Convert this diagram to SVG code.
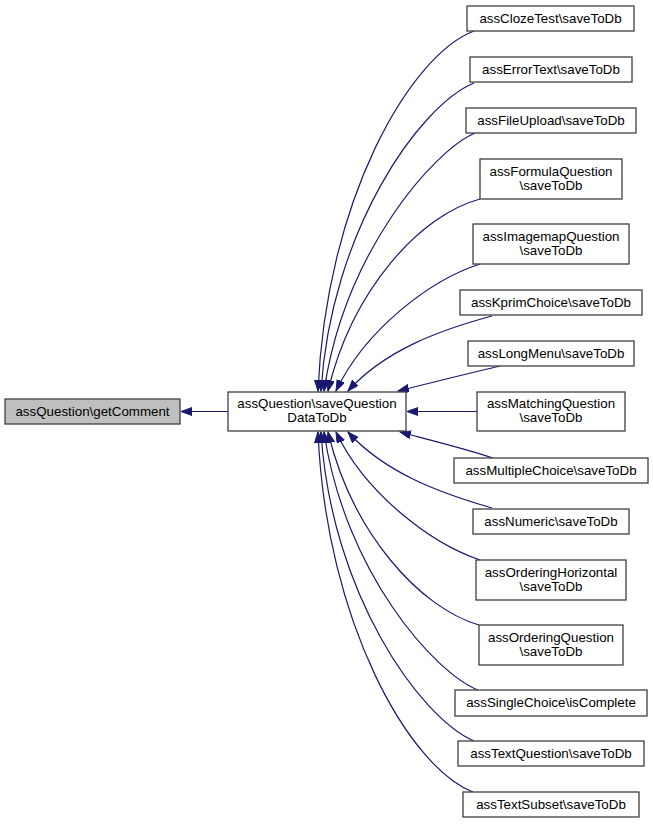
<svg xmlns="http://www.w3.org/2000/svg" width="653" height="824" viewBox="0 0 653 824">
<style>
.n rect{fill:#ffffff;stroke:#404040;stroke-width:1.3}
.n.root rect{fill:#bfbfbf}
.n text{font-family:"Liberation Sans",Arial,sans-serif;font-size:13.33px;fill:#000000;text-anchor:middle}
.e path{fill:none;stroke:#191970;stroke-width:1.2;marker-end:url(#ah)}
</style>
<defs>
<marker id="ah" markerUnits="userSpaceOnUse" markerWidth="13" markerHeight="10" refX="11" refY="4" orient="auto" viewBox="0 0 13 10">
<polygon points="0,0 11,4 0,8" fill="#191970" stroke="#191970" stroke-width="1"/>
</marker>
</defs>
<rect width="653" height="824" fill="#ffffff"/>
<g id="edges" class="e">
<path d="M228,411.5 L181,411.5"/>
<path d="M474,31 C410,55 326,200 318,391"/>
<path d="M474,83 C420,105 331,230 321,391"/>
<path d="M475,133 C435,150 345,250 324,391"/>
<path d="M480,199 C420,215 352,290 328,391"/>
<path d="M480,264 C430,280 365,330 336,391"/>
<path d="M492,316 C440,330 385,350 348,391"/>
<path d="M500,366 C470,373 430,383 398,391"/>
<path d="M477,411.5 L407,411.5"/>
<path d="M493,458 C470,450 430,440 400,432"/>
<path d="M492,508 C440,493 385,473 348,432"/>
<path d="M480,560 C430,543 365,493 336,432"/>
<path d="M479,625 C420,608 352,533 328,432"/>
<path d="M478,690 C435,673 345,573 324,432"/>
<path d="M474,741 C420,718 331,593 321,432"/>
<path d="M473,792 C410,768 326,623 318,432"/>
</g>
<g id="node_getComment" class="n root"><rect x="5" y="399" width="175" height="25"/><text x="92.5" y="415.5">assQuestion\getComment</text></g>
<g id="node_saveQuestionDataToDb" class="n"><rect x="228" y="392" width="178" height="39"/><text x="317" y="408">assQuestion\saveQuestion</text><text x="317" y="422">DataToDb</text></g>
<g id="node_ClozeTest" class="n"><rect x="467" y="6" width="167" height="25"/><text x="550.5" y="22.5">assClozeTest\saveToDb</text></g>
<g id="node_ErrorText" class="n"><rect x="470" y="57" width="162" height="25"/><text x="551" y="73.5">assErrorText\saveToDb</text></g>
<g id="node_FileUpload" class="n"><rect x="466" y="108" width="170" height="25"/><text x="551" y="124.5">assFileUpload\saveToDb</text></g>
<g id="node_FormulaQuestion" class="n"><rect x="480" y="159" width="142" height="40"/><text x="551" y="175.5">assFormulaQuestion</text><text x="551" y="189.5">\saveToDb</text></g>
<g id="node_ImagemapQuestion" class="n"><rect x="473" y="224" width="156" height="40"/><text x="551" y="240.5">assImagemapQuestion</text><text x="551" y="254.5">\saveToDb</text></g>
<g id="node_KprimChoice" class="n"><rect x="460" y="290" width="182" height="25"/><text x="551" y="306.5">assKprimChoice\saveToDb</text></g>
<g id="node_LongMenu" class="n"><rect x="468" y="341" width="166" height="25"/><text x="551" y="357.5">assLongMenu\saveToDb</text></g>
<g id="node_MatchingQuestion" class="n"><rect x="477" y="392" width="148" height="39"/><text x="551" y="408">assMatchingQuestion</text><text x="551" y="422">\saveToDb</text></g>
<g id="node_MultipleChoice" class="n"><rect x="454" y="458" width="194" height="25"/><text x="551" y="474.5">assMultipleChoice\saveToDb</text></g>
<g id="node_Numeric" class="n"><rect x="473" y="509" width="156" height="25"/><text x="551" y="525.5">assNumeric\saveToDb</text></g>
<g id="node_OrderingHorizontal" class="n"><rect x="476" y="560" width="150" height="40"/><text x="551" y="576.5">assOrderingHorizontal</text><text x="551" y="590.5">\saveToDb</text></g>
<g id="node_OrderingQuestion" class="n"><rect x="479" y="625" width="144" height="40"/><text x="551" y="641.5">assOrderingQuestion</text><text x="551" y="655.5">\saveToDb</text></g>
<g id="node_SingleChoice" class="n"><rect x="455" y="690" width="192" height="26"/><text x="551" y="707">assSingleChoice\isComplete</text></g>
<g id="node_TextQuestion" class="n"><rect x="458" y="741" width="186" height="25"/><text x="551" y="757.5">assTextQuestion\saveToDb</text></g>
<g id="node_TextSubset" class="n"><rect x="463" y="792" width="176" height="25"/><text x="551" y="808.5">assTextSubset\saveToDb</text></g>
</svg>
